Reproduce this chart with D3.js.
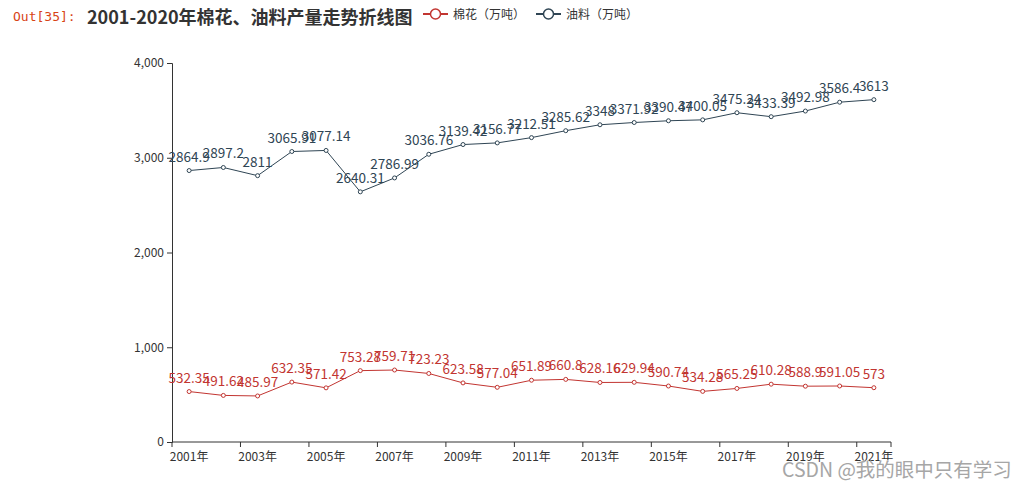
<!DOCTYPE html>
<html>
<head>
<meta charset="utf-8">
<script src="https://cdn.jsdelivr.net/npm/d3@7/dist/d3.min.js"></script>
<style>
html,body{margin:0;padding:0;background:#fff;}
svg{display:block;}
</style>
</head>
<body>
<svg id="chart" width="1025" height="489"></svg>
<script>
const years = ["2001年","2002年","2003年","2004年","2005年","2006年","2007年","2008年","2009年","2010年","2011年","2012年","2013年","2014年","2015年","2016年","2017年","2018年","2019年","2020年","2021年"];
const cotton = [532.35,491.62,485.97,632.35,571.42,753.28,759.71,723.23,623.58,577.04,651.89,660.8,628.16,629.94,590.74,534.28,565.25,610.28,588.9,591.05,573];
const oil = [2864.9,2897.2,2811,3065.91,3077.14,2640.31,2786.99,3036.76,3139.42,3156.77,3212.51,3285.62,3348,3371.92,3390.47,3400.05,3475.24,3433.39,3492.98,3586.4,3613];
const yTicks = [0,1000,2000,3000,4000];
const seriesNames = ["棉花（万吨）","油料（万吨）"];
const seriesColors = ["#c23531","#2f4554"];
const titleText = "2001-2020年棉花、油料产量走势折线图";

const svg = d3.select("#chart");
const font = "'Microsoft YaHei','Noto Sans CJK SC',sans-serif";

const x = d3.scaleBand().domain(years).range([172, 891]).padding(0);
const y = d3.scaleLinear().domain([0, 4000]).range([442, 63]);

// Out prompt
svg.append("text").attr("x", 13).attr("y", 21)
  .attr("font-family", "'DejaVu Sans Mono','Liberation Mono',monospace")
  .attr("font-size", 13).attr("fill", "#d84315").text("Out[35]:");

// Title
svg.append("text").attr("x", 87).attr("y", 24)
  .attr("font-family", font).attr("font-size", 18).attr("font-weight", "bold")
  .attr("fill", "#333").text(titleText);

// Legend
const legendX = [423, 536];
seriesNames.forEach((n, i) => {
  const g = svg.append("g").attr("transform", `translate(${legendX[i]},14)`);
  g.append("line").attr("x1", 0).attr("x2", 25).attr("y1", 0).attr("y2", 0)
    .attr("stroke", seriesColors[i]).attr("stroke-width", 2);
  g.append("circle").attr("cx", 12.5).attr("cy", 0).attr("r", 5)
    .attr("fill", "#fff").attr("stroke", seriesColors[i]).attr("stroke-width", 1.5);
  g.append("text").attr("x", 30).attr("y", 4.5).attr("font-family", font)
    .attr("font-size", 12).attr("fill", "#333").text(n);
});

// Y axis
const yAxis = d3.axisLeft(y).tickValues(yTicks).tickSize(5).tickPadding(3)
  .tickFormat(d3.format(","));
const gy = svg.append("g").attr("transform", "translate(172,0)").call(yAxis);
gy.selectAll("text").attr("font-family", font).attr("font-size", 12).attr("fill", "#333");
gy.selectAll("line,path").attr("stroke", "#333");

// X axis
const boundaries = d3.range(0, 21, 2).map(i => 172 + i * x.bandwidth()).concat([891]);
const gx = svg.append("g");
gx.append("line").attr("x1", 172).attr("x2", 891).attr("y1", 442).attr("y2", 442).attr("stroke", "#333");
gx.selectAll("line.tk").data(boundaries).enter().append("line").attr("class", "tk")
  .attr("x1", d => d).attr("x2", d => d).attr("y1", 442).attr("y2", 447).attr("stroke", "#333");
gx.selectAll("text").data(years.filter((d, i) => i % 2 === 0)).enter().append("text")
  .attr("x", d => x(d) + x.bandwidth() / 2).attr("y", 461)
  .attr("text-anchor", "middle").attr("font-family", font).attr("font-size", 12)
  .attr("fill", "#333").text(d => d);

// Series
[cotton, oil].forEach((vals, si) => {
  const color = seriesColors[si];
  const pts = vals.map((v, i) => [x(years[i]) + x.bandwidth() / 2, y(v), v]);
  svg.append("path").attr("d", d3.line()(pts.map(p => [p[0], p[1]])))
    .attr("fill", "none").attr("stroke", color).attr("stroke-width", 1);
  svg.selectAll(null).data(pts).enter().append("circle")
    .attr("cx", p => p[0]).attr("cy", p => p[1]).attr("r", 2)
    .attr("fill", "#fff").attr("stroke", color).attr("stroke-width", 1);
  svg.selectAll(null).data(pts).enter().append("text")
    .attr("x", p => p[0]).attr("y", p => p[1] - 9)
    .attr("text-anchor", "middle").attr("font-family", font).attr("font-size", 13.5)
    .attr("fill", color).text(p => String(p[2]));
});

// Watermark
svg.append("text").attr("x", 782).attr("y", 477)
  .attr("font-family", font).attr("font-size", 19.5)
  .attr("fill", "#a6a6a6").attr("stroke", "#fff").attr("stroke-width", 0.6)
  .attr("paint-order", "stroke")
  .text("CSDN @我的眼中只有学习");
</script>
</body>
</html>
